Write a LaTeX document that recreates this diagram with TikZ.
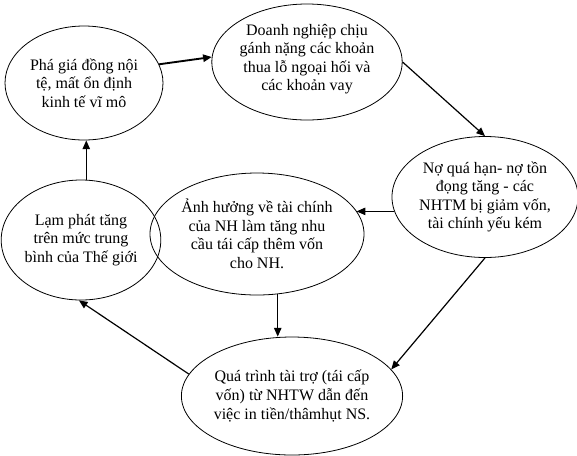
\documentclass[tikz,border=0pt]{standalone}
\usepackage{fontspec}
\setmainfont{Liberation Serif}
\usetikzlibrary{shapes.geometric,arrows.meta,calc}
\begin{document}
\begin{tikzpicture}[x=0.75pt,y=-0.75pt,
  bubble/.style 2 args={draw,ellipse,line width=0.6pt,inner sep=0pt,align=center,
    minimum width={#1*0.75pt},minimum height={#2*0.75pt},
    font=\fontsize{12}{13.9}\selectfont},
  conn/.style={line width=0.9pt,-{Triangle[length=6.5pt,width=5.5pt]}}]
\useasboundingbox (0,0) rectangle (577,455);
\node[bubble={158}{114}] (A) at (84,83)
  {Phá giá đồng nội\\tệ, mất ổn định\\kinh tế vĩ mô};
\node[bubble={190}{116}] (B) at (307,62)
  {\\[-10pt]Doanh nghiệp chịu\\gánh nặng các khoản\\thua lỗ ngoại hối và\\các khoản vay};
\node[bubble={184}{121}] (C) at (485,197)
  {Nợ quá hạn- nợ tồn\\đọng tăng - các\\NHTM bị giảm vốn,\\tài chính yếu kém};
\node[bubble={158}{120}] (D) at (81,240)
  {Lạm phát tăng\\trên mức trung\\bình của Thế giới};
\node[bubble={184}{122}] (E) at (257,234)
  {Ảnh hưởng về tài chính\\của NH làm tăng nhu\\cầu tái cấp thêm vốn\\cho NH.};
\node[bubble={212}{118}] (F) at (292,396)
  {Quá trình tài trợ (tái cấp\\vốn) từ NHTW dẫn đến\\việc in tiền/thâmhụt NS.};
\draw[conn,line width=1.4pt] (A.14) -- (B.177);
\draw[conn] (B.east) -- (C.north);
\draw[conn] (C.189) -- (C.189 -| E.13);
\draw[conn] (C.south) -- (F.15);
\draw[conn] (E.-71) -- (E.-71 |- F.north);
\draw[conn] (F.168) -- (D.-92);
\draw[conn] (D.85) -- (D.85 |- A.south);
\end{tikzpicture}
\end{document}
